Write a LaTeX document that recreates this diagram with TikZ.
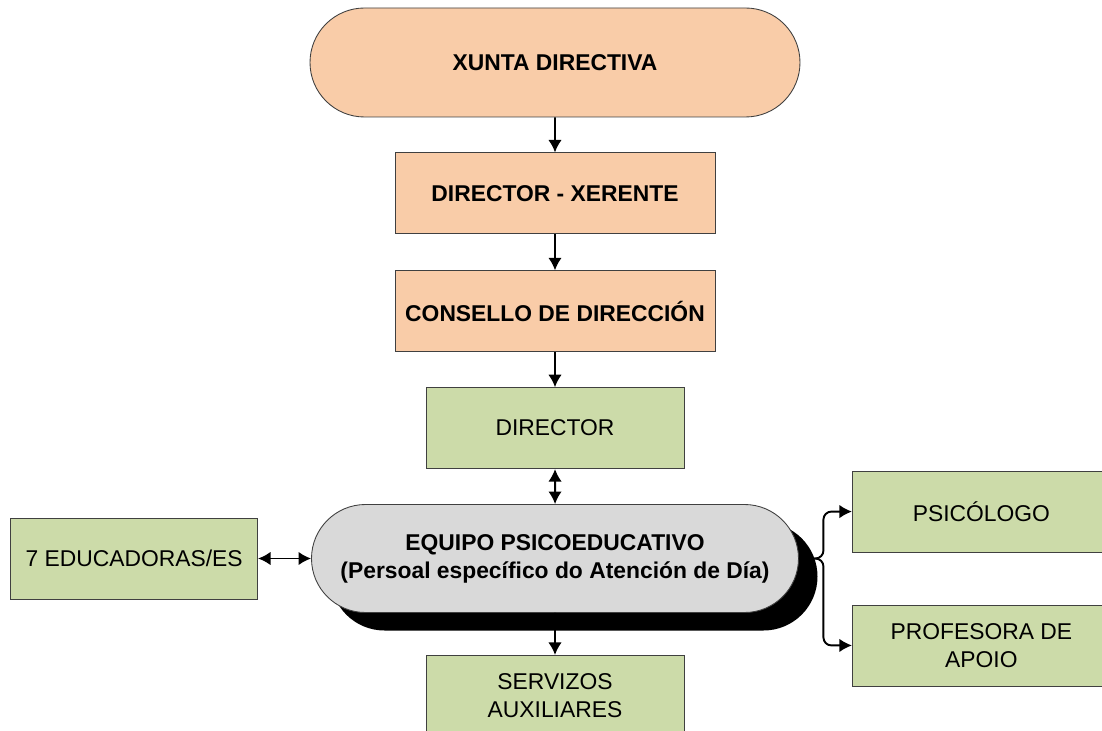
\documentclass[tikz,border=0pt]{standalone}
\usepackage{fontspec}
\setmainfont{Liberation Sans}
\usepackage{xcolor}
\usepackage{tikz}
\usetikzlibrary{arrows.meta}
\usetikzlibrary{positioning}
\usetikzlibrary{shadows}
\usetikzlibrary{shapes.misc}

\definecolor{peach}{HTML}{F9CCA8}
\definecolor{leaf}{HTML}{CCDBA9}
\definecolor{pale}{HTML}{D9D9D9}

\begin{document}
\begin{tikzpicture}
[
	box/.style	= {rectangle, draw = black!75!white, line width = 0.5pt, minimum height = 1.62cm, inner sep = 0cm, align = center, font = \fontsize{13}{16}\selectfont},
	bold/.style	= {font = \fontsize{13}{16}\selectfont\bfseries},
	top/.style	= {box, bold, fill = peach, minimum width = 6.4cm},
	staff/.style	= {box, fill = leaf, minimum width = 5.16cm},
	pill/.style	= {box, bold, rounded rectangle},
	link/.style	= {-{Latex[length = 0.25cm, width = 0.27cm]}, line width = 1.1pt},
	twin/.style	= {{Latex[length = 0.25cm, width = 0.27cm]}-{Latex[length = 0.25cm, width = 0.27cm]}, line width = 1.1pt},
	node distance = 0.7cm and 1.06cm,
]

	\useasboundingbox (0,0) rectangle (22.04,-14.62);

	\node (xunta) [pill, fill = peach, minimum width = 9.8cm, minimum height = 2.18cm] at (11.1,-1.25) {XUNTA DIRECTIVA};
	\node (xerente) [top, below = of xunta] {DIRECTOR - XERENTE};
	\node (consello) [top, below = 0.72cm of xerente] {CONSELLO DE DIRECCIÓN};
	\node (director) [staff, below = of consello] {DIRECTOR};
	%
	\node (equipo) [pill, fill = pale, minimum width = 9.74cm, minimum height = 2.16cm, below = of director,
		drop shadow = {shadow xshift = 0.38cm, shadow yshift = -0.36cm, fill = black, opacity = 1}]
		{EQUIPO PSICOEDUCATIVO\\(Persoal específico do Atención de Día)};
	%
	\node (servizos) [staff, below = 0.84cm of equipo] {SERVIZOS\\AUXILIARES};
	\node (educ) [staff, minimum width = 4.94cm, left = of equipo] {7 EDUCADORAS/ES};
	\node (psico) [staff, above right = 0.12cm and 1.06cm of equipo.east] {PSICÓLOGO};
	\node (apoio) [staff, below right = 0.92cm and 1.06cm of equipo.east] {PROFESORA DE\\APOIO};

	\draw [link] (xunta) -- (xerente);
	\draw [link] (xerente) -- (consello);
	\draw [link] (consello) -- (director);
	\draw [twin] (director) -- (equipo);
	\draw [link] (equipo) -- (servizos);
	\draw [twin] (educ) -- (equipo);
	%
	\draw [link, rounded corners = 0.16cm] (equipo.east) -- ++(0.49,0) |- (psico);
	\draw [link, rounded corners = 0.16cm] (equipo.east) -- ++(0.49,0) |- (apoio);

\end{tikzpicture}
\end{document}
